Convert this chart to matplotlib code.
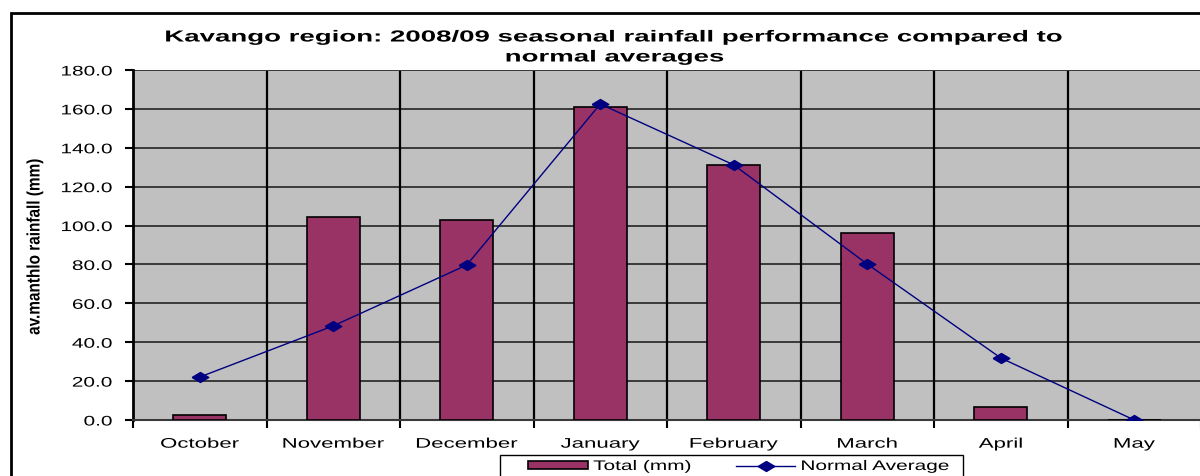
import matplotlib.pyplot as plt
import matplotlib.patches as mpatches
from matplotlib.patheffects import AbstractPathEffect
from matplotlib.transforms import Affine2D
import numpy as np

months = ['October', 'November', 'December', 'January', 'February', 'March', 'April', 'May']
total_mm = [2.6, 104.4, 102.9, 161.0, 131.2, 96.2, 6.7, 0.0]
normal_avg = [22.1, 48.4, 79.7, 162.5, 131.2, 80.2, 31.9, 0.0]
y_ticks = [0, 20, 40, 60, 80, 100, 120, 140, 160, 180]


class Stretch(AbstractPathEffect):
    """Text strecken/stauchen (Excel-Export wirkt breit gezogen)"""
    def __init__(self, sx=1.0, sy=1.0, anchor='center'):
        super().__init__()
        self.sx = sx
        self.sy = sy
        self.anchor = anchor

    def draw_path(self, renderer, gc, tpath, affine, rgbFace=None):
        ext = tpath.get_extents(affine)
        cx = {'left': ext.x0, 'center': 0.5 * (ext.x0 + ext.x1), 'right': ext.x1}[self.anchor]
        cy = 0.5 * (ext.y0 + ext.y1)
        aff = affine + Affine2D().translate(-cx, -cy).scale(self.sx, self.sy).translate(cx, cy)
        renderer.draw_path(gc, tpath, aff, rgbFace)


plt.rcParams['font.family'] = ['Liberation Sans', 'DejaVu Sans']

fig = plt.figure(figsize=(12, 4.77), dpi=100)
ax = fig.add_axes([133/1200, 1 - 421/477, 1068/1200, 350/477])
ax.set_facecolor('#C0C0C0')

# breite, flache Raute wie im Original
diamond = [(-1, 0), (0, 0.6), (1, 0), (0, -0.6), (-1, 0)]

x = np.arange(len(months))
bars = ax.bar(x, total_mm, width=0.4, color='#993366', edgecolor='black', linewidth=1.2,
              zorder=3, label='Total (mm)')
line, = ax.plot(x, normal_avg, color='#000080', linewidth=1.0, marker=diamond, markersize=12,
                zorder=4, label='Normal Average')

ax.set_xlim(-0.5, 7.5)
ax.set_ylim(0, 180)
ax.set_yticks(y_ticks)
ax.set_yticklabels([f'{v:.1f}' for v in y_ticks], fontsize=10)
ax.yaxis.grid(True, color='#3a3a3a', linewidth=1.4, zorder=1)
ax.set_axisbelow(True)

# vertikale Trennlinien zwischen den Monaten
for b in np.arange(0.5, 7.5, 1):
    ax.axvline(b, color='black', linewidth=1.6, zorder=2)

ax.set_xticks(x)
ax.set_xticklabels(months, fontsize=10)
ax.tick_params(axis='x', which='major', length=0, pad=12)
ax.set_xticks(np.arange(-0.5, 8, 1), minor=True)
ax.tick_params(axis='x', which='minor', length=6, width=1.5, direction='out')
ax.tick_params(axis='y', length=6, width=1.5, direction='out', pad=9)

for t in ax.get_yticklabels():
    t.set_path_effects([Stretch(sx=1.5, anchor='right')])
for t in ax.get_xticklabels():
    t.set_path_effects([Stretch(sx=1.6)])

for s in ['top', 'right']:
    ax.spines[s].set_visible(False)
ax.spines['left'].set_linewidth(2)
ax.spines['bottom'].set_linewidth(1.5)
ax.spines['bottom'].set_color('#3a3a3a')
ax.axhline(180, color='#3a3a3a', linewidth=1.4, zorder=2)

# Achsentitel schmal und hoch (wie Arial Narrow)
fig.text(35/1200, 1 - 248/477, 'av.manthlo rainfall (mm)', rotation=90, ha='center', va='center',
         fontsize=13, fontweight='bold', path_effects=[Stretch(sy=0.85)])

t1 = fig.text(615/1200, 1 - 38/477, 'Kavango region: 2008/09 seasonal rainfall performance compared to',
              ha='center', va='center', fontsize=11.5, fontweight='bold')
t2 = fig.text(615/1200, 1 - 58/477, 'normal averages',
              ha='center', va='center', fontsize=11.5, fontweight='bold')
for t in (t1, t2):
    t.set_path_effects([Stretch(sx=1.73)])

# Rahmen um das ganze Diagramm (rechts/unten abgeschnitten)
fig.patches.append(mpatches.Rectangle((11/1200, -0.1), 1.2, 1 - 14/477 + 0.1,
                                      transform=fig.transFigure, fill=False,
                                      edgecolor='black', linewidth=2))

leg = fig.legend(handles=[bars, line], loc='upper left', ncol=2,
                 bbox_to_anchor=(528/1200, 1 - 460/477), fontsize=10, frameon=False,
                 handlelength=4.3, handleheight=0.45, handletextpad=0.4,
                 columnspacing=5.5, borderaxespad=0, borderpad=0)
for t in leg.get_texts():
    t.set_path_effects([Stretch(sx=1.5, anchor='left')])
# Legendenrahmen separat, da die gestreckten Texte breiter sind
fig.patches.append(mpatches.Rectangle((500/1200, -0.1), 463/1200, 1 - 456/477 + 0.1,
                                      transform=fig.transFigure, fill=False,
                                      edgecolor='black', linewidth=1))

fig.savefig('out.png', dpi=100)
